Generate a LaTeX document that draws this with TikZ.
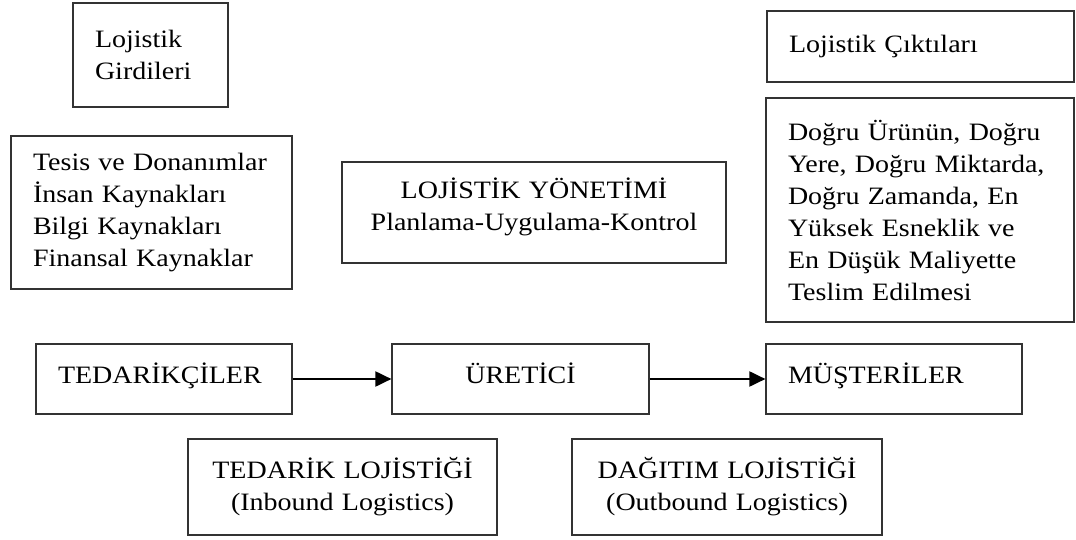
\documentclass[tikz,border=0pt]{standalone}
\usepackage{fontspec}
\setmainfont[FakeStretch=1.12]{Liberation Serif}
\usetikzlibrary{arrows.meta}
\tikzset{
	kutu/.style={draw=black!80, line width=1.2pt, inner xsep=0pt, inner ysep=0pt,
		font=\fontsize{25}{32}\selectfont},
	solkutu/.style={kutu, align=left, inner xsep=22pt},
	ortakutu/.style={kutu, align=center, inner xsep=22pt},
	zincir/.style={text height=20pt, text depth=12pt, minimum height=70},
	akis/.style={line width=2pt, -{Triangle[length=16pt,width=15pt]}}
}
\begin{document}
\begin{tikzpicture}[x=1pt,y=-1pt]
		\useasboundingbox (0,0) rectangle (1076,540);

		% ust bloklar
		\node[solkutu, text width=111, minimum height=104] (girdi)   at (150.5, 55  ) {Lojistik\\Girdileri};
		\node[solkutu, text width=237, minimum height=153] (kaynak)  at (151.5,212.5) {Tesis ve Donanımlar\\İnsan Kaynakları\\Bilgi Kaynakları\\Finansal Kaynaklar};
		\node[ortakutu, text width=340, minimum height=101, text height=22pt, text depth=49pt] (yonetim) at (534,212.5) {LOJİSTİK YÖNETİMİ\\Planlama-Uygulama-Kontrol};
		\node[solkutu, text width=263, minimum height=71] (cikti)   at (920.5, 46.5) {Lojistik Çıktıları};
		\node[solkutu, text width=264, minimum height=224] (dogru)   at (920  ,210  ) {Doğru Ürünün, Doğru\\Yere, Doğru Miktarda,\\Doğru Zamanda, En\\Yüksek Esneklik ve\\En Düşük Maliyette\\Teslim Edilmesi};

		% zincir
		\node[solkutu, zincir, text width=212] (tedarikci) at (164  ,379) {TEDARİKÇİLER};
		\node[ortakutu, zincir, text width=213] (uretici)   at (520.5,379) {ÜRETİCİ};
		\node[solkutu, zincir, text width=212] (musteri)   at (894  ,379) {MÜŞTERİLER};

		\draw[akis] (tedarikci.east) -- (uretici.west);
		\draw[akis] (uretici.east) -- (musteri.west);

		% alt bloklar
		\node[ortakutu, text width=265, minimum height=96] (inbound)  at (342.5,487) {TEDARİK LOJİSTİĞİ\\(Inbound Logistics)};
		\node[ortakutu, text width=266, minimum height=96] (outbound) at (727  ,487) {DAĞITIM LOJİSTİĞİ\\(Outbound Logistics)};
	\end{tikzpicture}
\end{document}
